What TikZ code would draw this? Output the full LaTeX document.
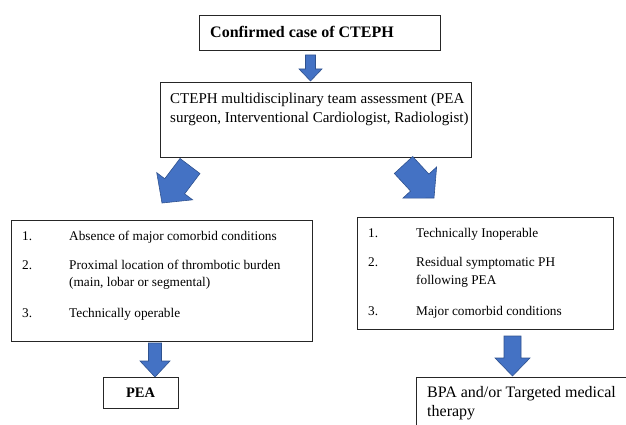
\documentclass[tikz,border=0pt]{standalone}
\usepackage{fontspec}
\setmainfont{Liberation Serif}
\usetikzlibrary{calc}
\definecolor{abl}{RGB}{68,114,196}
\definecolor{abd}{RGB}{47,82,143}
\tikzset{
  box/.style={draw=black!85, line width=1.1pt, inner sep=0pt, anchor=north west},
  txt/.style={anchor=base west, inner sep=0pt},
  listfont/.style={font=\fontsize{13.3}{16}\selectfont},
  blockarrow/.style={fill=abl, draw=abd, line width=0.6pt, line join=miter},
}
\newcommand\blockarrow[5]{%
  \path[blockarrow] let \p1=(#1), \p2=(#2),
    \n1={atan2(\y2-\y1,\x2-\x1)}, \n2={veclen(\x2-\x1,\y2-\y1)} in
    ($(\p1)+(\n1-90:#3)$) -- ($(\p1)+(\n1-90:#3)+(\n1:\n2-#5)$)
    -- ($(\p1)+(\n1-90:#4)+(\n1:\n2-#5)$) -- (\p2)
    -- ($(\p1)+(\n1+90:#4)+(\n1:\n2-#5)$) -- ($(\p1)+(\n1+90:#3)+(\n1:\n2-#5)$)
    -- ($(\p1)+(\n1+90:#3)$) -- cycle;}
\begin{document}
\begin{tikzpicture}[x=1pt,y=-1pt]
\useasboundingbox (0,0) rectangle (626,425);
\clip (0,0) rectangle (626,425);
% boxes
\node[box, minimum width=241pt, minimum height=35pt] (b1) at (199,15) {};
\node[box, minimum width=311pt, minimum height=75pt] (b2) at (160,82) {};
\node[box, minimum width=301pt, minimum height=121pt] (b3) at (11,220) {};
\node[box, minimum width=256pt, minimum height=112pt] (b4) at (357,217) {};
\node[box, minimum width=75pt, minimum height=31pt] (b5) at (103,377) {};
\node[box, minimum width=240pt, minimum height=80pt] (b6) at (416,377) {};
% texts
\node[txt, font=\bfseries\fontsize{16}{19}\selectfont] (t1) at (210,37.5) {Confirmed case of CTEPH};
\node[txt, font=\fontsize{15}{18}\selectfont] (t2a) at (170,104) {CTEPH multidisciplinary team assessment (PEA};
\node[txt, font=\fontsize{15}{18}\selectfont] (t2b) at (170,123) {surgeon, Interventional Cardiologist, Radiologist)};
\node[txt, listfont] (l1n) at (22,240) {1.};
\node[txt, listfont] (l1t) at (69,240) {Absence of major comorbid conditions};
\node[txt, listfont] (l2n) at (22,269) {2.};
\node[txt, listfont] (l2t) at (69,269) {Proximal location of thrombotic burden};
\node[txt, listfont] (l2u) at (69,286) {(main, lobar or segmental)};
\node[txt, listfont] (l3n) at (22,317) {3.};
\node[txt, listfont] (l3t) at (69,317) {Technically operable};
\node[txt, listfont] (r1n) at (368,237) {1.};
\node[txt, listfont] (r1t) at (416,237) {Technically Inoperable};
\node[txt, listfont] (r2n) at (368,266) {2.};
\node[txt, listfont] (r2t) at (416,266) {Residual symptomatic PH};
\node[txt, listfont] (r2u) at (416,284) {following PEA};
\node[txt, listfont] (r3n) at (368,315) {3.};
\node[txt, listfont] (r3t) at (416,315) {Major comorbid conditions};
\node[anchor=base, inner sep=0pt, font=\bfseries\fontsize{14.5}{17}\selectfont] (t5) at (140.5,397) {PEA};
\node[txt, font=\fontsize{16}{19}\selectfont] (t6a) at (427,397) {BPA and/or Targeted medical};
\node[txt, font=\fontsize{16}{19}\selectfont] (t6b) at (427,416) {therapy};
% arrow end points
\coordinate (a1s) at (310.5,55);  \coordinate (a1e) at (310.5,81);
\coordinate (a2s) at (190,166);   \coordinate (a2e) at (162,203);
\coordinate (a3s) at (403.5,165); \coordinate (a3e) at (434,198);
\coordinate (a4s) at (155,343);   \coordinate (a4e) at (155,377);
\coordinate (a5s) at (512.5,336); \coordinate (a5e) at (512.5,376);
\blockarrow{a1s}{a1e}{5pt}{11.5pt}{12pt}
\blockarrow{a2s}{a2e}{12.5pt}{22.5pt}{21pt}
\blockarrow{a3s}{a3e}{12.5pt}{23pt}{21pt}
\blockarrow{a4s}{a4e}{6.5pt}{15pt}{16pt}
\blockarrow{a5s}{a5e}{8.5pt}{17.5pt}{18pt}
\end{tikzpicture}
\end{document}
